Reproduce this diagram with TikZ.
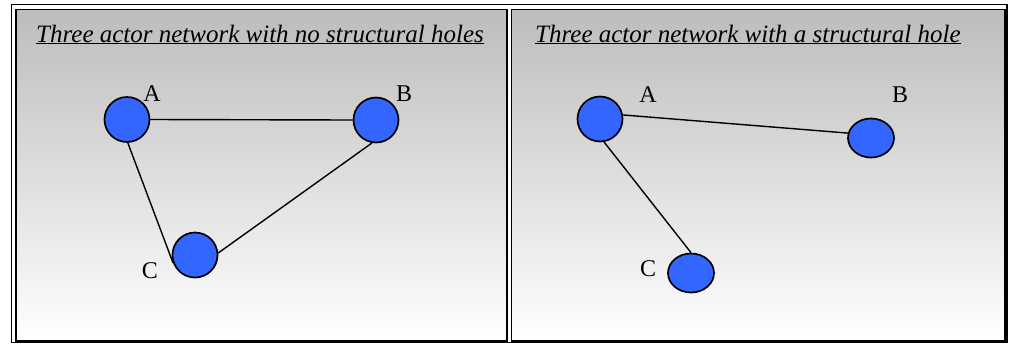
\documentclass[tikz,border=0pt]{standalone}
\usepackage{fontspec}
\setmainfont{Liberation Serif}
\usetikzlibrary{shapes.geometric}

\definecolor{actorblue}{RGB}{51,102,255}

\tikzset{
    actor/.style={circle,draw,line width=1.7pt,fill=actorblue,minimum size=45pt,inner sep=0pt},
    flatactor/.style={ellipse,draw,line width=1.7pt,fill=actorblue,minimum width=46pt,minimum height=39pt,inner sep=0pt},
    lbl/.style={anchor=base,inner sep=0pt,font=\fontsize{24}{28}\selectfont},
    caption/.style={anchor=base west,inner sep=0pt,font=\fontsize{25}{30}\selectfont\itshape},
    tie/.style={line width=1.4pt},
    panel/.style={draw,line width=1.6pt,top color=black!26,bottom color=white}
}

\begin{document}
\begin{tikzpicture}[x=1pt,y=-1pt]
            \useasboundingbox (0,0) rectangle (1011,346);

            \draw[line width=1.6pt] (11.5,4.5) rectangle (1007,342.6);
            \draw[panel] (16,9.5) rectangle (507,341);
            \draw[panel] (511.5,9.5) rectangle (1005.2,341);

            % left panel
            \node[caption] (t1) at (36,42) {\underline{Three actor network with no structural holes}};

            \node[actor] (a1) at (127,119.5) {};
            \node[actor] (b1) at (376,120) {};
            \node[actor] (c1) at (195,255) {};

            \node[lbl] (la1) at (152,101) {A};
            \node[lbl] (lb1) at (404,101) {B};
            \node[lbl] (lc1) at (150,278) {C};

            \draw[tie] (a1.east) -- (b1.west);
            \draw[tie] (a1.-88) -- (c1.200);
            \draw[tie] (b1.-100) -- (c1.5);

            % right panel
            \node[caption] (t2) at (535,42) {\underline{Three actor network with a structural hole}};

            \node[actor] (a2) at (600,119) {};
            \node[flatactor] (b2) at (871,138) {};
            \node[flatactor] (c2) at (691,273) {};

            \node[lbl] (la2) at (648,102) {A};
            \node[lbl] (lb2) at (900,102) {B};
            \node[lbl] (lc2) at (648,276) {C};

            \draw[tie] (a2.10) -- (b2.168);
            \draw[tie] (a2.-80) -- (c2.north);
        \end{tikzpicture}
\end{document}
